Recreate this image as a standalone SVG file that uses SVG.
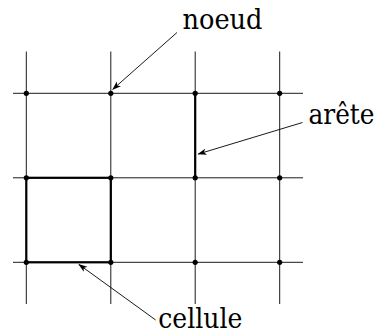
<svg xmlns="http://www.w3.org/2000/svg" width="379" height="334" viewBox="0 0 379 334">
<style>
.grid{stroke:#000;stroke-width:0.9;fill:none}
.thick{stroke:#000;stroke-width:2.2;fill:none;stroke-linecap:square}
.dot{fill:#000}
.lbl{font-family:"DejaVu Serif","Liberation Serif",serif;font-size:28px;fill:#000}
.arr{stroke:#000;stroke-width:0.9;fill:none;marker-end:url(#ah)}
</style>
<defs>
<marker id="ah" viewBox="0 0 10 10" refX="9" refY="5" markerWidth="9" markerHeight="9" markerUnits="userSpaceOnUse" orient="auto">
<path d="M0,1.5 L10,5 L0,8.5 L2.5,5 Z" fill="#000"/>
</marker>
</defs>
<g id="grid">
<line class="grid" x1="26.3" y1="51.5" x2="26.3" y2="304"/>
<line class="grid" x1="110.8" y1="51.5" x2="110.8" y2="304"/>
<line class="grid" x1="195.2" y1="51.5" x2="195.2" y2="304"/>
<line class="grid" x1="279.7" y1="51.5" x2="279.7" y2="304"/>
<line class="grid" x1="13" y1="93.3" x2="303" y2="93.3"/>
<line class="grid" x1="13" y1="177.8" x2="303" y2="177.8"/>
<line class="grid" x1="13" y1="262.3" x2="303" y2="262.3"/>
</g>
<g id="arete-edge">
<line class="thick" x1="195.2" y1="93.3" x2="195.2" y2="177.8"/>
</g>
<g id="cellule-cell">
<rect class="thick" x="26.3" y="177.8" width="84.5" height="84.5"/>
</g>
<g id="nodes">
<circle class="dot" cx="26.3" cy="93.3" r="2.6"/>
<circle class="dot" cx="110.8" cy="93.3" r="2.6"/>
<circle class="dot" cx="195.2" cy="93.3" r="2.6"/>
<circle class="dot" cx="279.7" cy="93.3" r="2.6"/>
<circle class="dot" cx="26.3" cy="177.8" r="2.6"/>
<circle class="dot" cx="110.8" cy="177.8" r="2.6"/>
<circle class="dot" cx="195.2" cy="177.8" r="2.6"/>
<circle class="dot" cx="279.7" cy="177.8" r="2.6"/>
<circle class="dot" cx="26.3" cy="262.3" r="2.6"/>
<circle class="dot" cx="110.8" cy="262.3" r="2.6"/>
<circle class="dot" cx="195.2" cy="262.3" r="2.6"/>
<circle class="dot" cx="279.7" cy="262.3" r="2.6"/>
</g>
<g id="labels">
<text id="noeud" class="lbl" x="182.5" y="29" textLength="80" lengthAdjust="spacingAndGlyphs">noeud</text>
<text id="arete" class="lbl" x="308.5" y="123.5" font-size="25.5" textLength="66" lengthAdjust="spacingAndGlyphs">arête</text>
<text id="cellule" class="lbl" x="158.3" y="328" textLength="84" lengthAdjust="spacingAndGlyphs">cellule</text>
</g>
<g id="connectors">
<line class="arr" x1="177" y1="32.5" x2="112.8" y2="89.3"/>
<line class="arr" x1="302.5" y1="122.5" x2="198.3" y2="154"/>
<line class="arr" x1="155.7" y1="320" x2="79" y2="264.5"/>
</g>
</svg>
